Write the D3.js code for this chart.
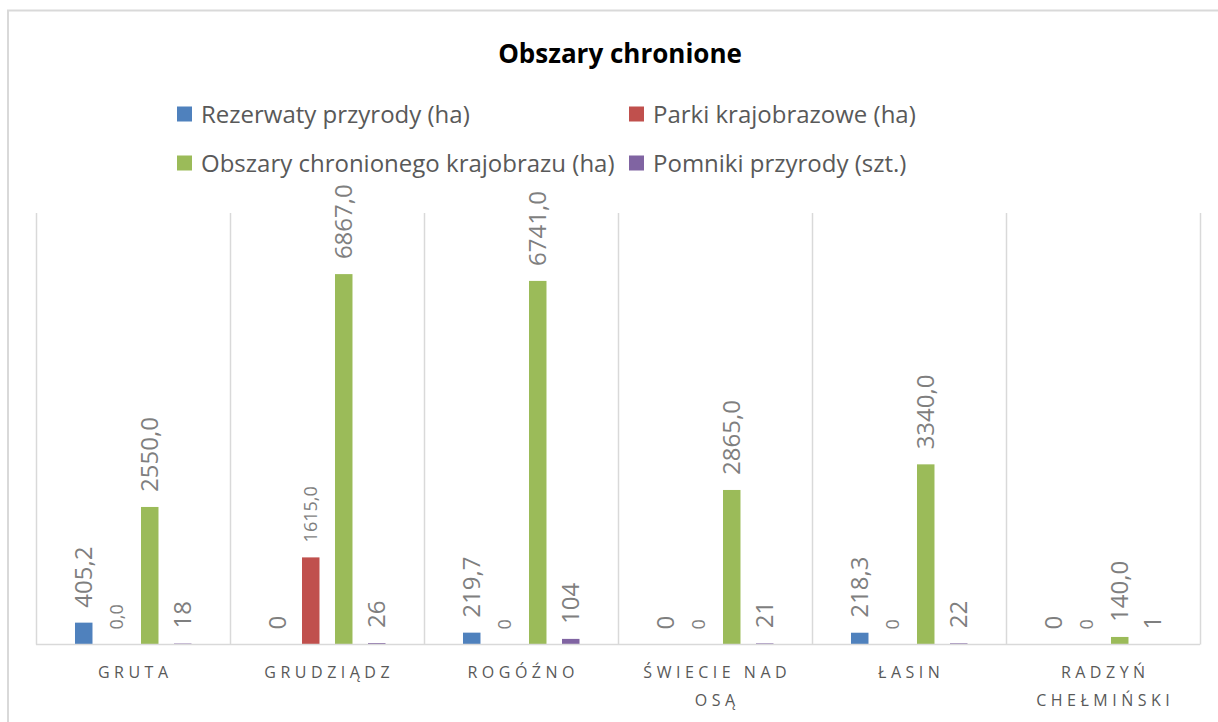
<!DOCTYPE html>
<html>
<head>
<meta charset="utf-8">
<script src="https://cdn.jsdelivr.net/npm/d3@7"></script>
<style>
  html, body { margin: 0; padding: 0; background: #fff; }
  svg { display: block; }
</style>
</head>
<body>
<svg id="chart" width="1218" height="722"></svg>
<script>
// ---- Data ----
const categories = ["GRUTA", "GRUDZIĄDZ", "ROGÓŹNO", "ŚWIECIE NAD OSĄ", "ŁASIN", "RADZYŃ CHEŁMIŃSKI"];
const seriesNames = ["Rezerwaty przyrody (ha)", "Parki krajobrazowe (ha)", "Obszary chronionego krajobrazu (ha)", "Pomniki przyrody (szt.)"];
const rezerwaty = [405.2, 0, 219.7, 0, 218.3, 0];
const parki = [0, 1615, 0, 0, 0, 0];
const obszary = [2550, 6867, 6741, 2865, 3340, 140];
const pomniki = [18, 26, 104, 21, 22, 1];
const rezerwatyLabels = ["405,2", "0", "219,7", "0", "218,3", "0"];
const parkiLabels = ["0,0", "1615,0", "0", "0", "0", "0"];
const obszaryLabels = ["2550,0", "6867,0", "6741,0", "2865,0", "3340,0", "140,0"];
const pomnikiLabels = ["18", "26", "104", "21", "22", "1"];
const yTicks = [0, 8000];
const title = "Obszary chronione";

// ---- Styles ----
const colors = ["#4f81bd", "#c0504d", "#9bbb59", "#8064a2"];
const smallLabelSeries = [1]; // series whose data labels use the smaller font
const FONT = "'Open Sans', 'DejaVu Sans', sans-serif";

const seriesValues = [rezerwaty, parki, obszary, pomniki];
const seriesLabels = [rezerwatyLabels, parkiLabels, obszaryLabels, pomnikiLabels];

const svg = d3.select("#chart");

// outer chart border
svg.append("rect")
  .attr("x", 8).attr("y", 10.5).attr("width", 1230).attr("height", 730)
  .attr("fill", "#fff").attr("stroke", "#d9d9d9").attr("stroke-width", 2);

// title
svg.append("text")
  .attr("x", 620).attr("y", 63)
  .attr("text-anchor", "middle")
  .attr("font-family", FONT).attr("font-weight", "bold")
  .attr("font-size", 26).attr("fill", "#000")
  .text(title);

// legend
const legendPos = [[177, 114], [629, 114], [177, 163], [629, 163]];
const legend = svg.append("g");
seriesNames.forEach((name, i) => {
  const [lx, ly] = legendPos[i];
  legend.append("rect")
    .attr("x", lx).attr("y", ly - 7.5).attr("width", 15).attr("height", 15)
    .attr("fill", colors[i]);
  legend.append("text")
    .attr("x", lx + 24).attr("y", ly)
    .attr("dy", "0.36em")
    .attr("font-family", FONT).attr("font-size", 24)
    .attr("fill", "#595959")
    .text(name);
});

// scales
const x0 = d3.scaleBand().domain(categories).range([36, 1200]).padding(0);
const bw0 = x0.bandwidth();
const x1 = d3.scaleBand().domain(d3.range(seriesNames.length))
  .range([bw0 * 0.201, bw0 * 0.8015]).paddingInner(0.47).paddingOuter(0);
const y = d3.scaleLinear().domain(d3.extent(yTicks)).range([644.5, 213]);

// category separator lines
const gridG = svg.append("g");
const bounds = categories.map(c => x0(c)).concat([x0.range()[1]]);
bounds.forEach(bx => {
  gridG.append("line")
    .attr("x1", Math.round(bx) + 0.5).attr("x2", Math.round(bx) + 0.5)
    .attr("y1", y(yTicks[yTicks.length - 1])).attr("y2", y(0))
    .attr("stroke", "#d9d9d9").attr("stroke-width", 1.5);
});

// bars
const barsG = svg.append("g");
categories.forEach((cat, ci) => {
  seriesValues.forEach((vals, si) => {
    const v = vals[ci];
    const h = y(0) - y(v);
    if (h > 0) {
      barsG.append("rect")
        .attr("x", x0(cat) + x1(si))
        .attr("y", y(v))
        .attr("width", x1.bandwidth())
        .attr("height", h)
        .attr("fill", colors[si]);
    }
  });
});

// baseline
svg.append("line")
  .attr("x1", x0.range()[0]).attr("x2", x0.range()[1])
  .attr("y1", y(0)).attr("y2", y(0))
  .attr("stroke", "#d9d9d9").attr("stroke-width", 1.5);

// data labels
const labelsG = svg.append("g");
categories.forEach((cat, ci) => {
  seriesValues.forEach((vals, si) => {
    const cx = x0(cat) + x1(si) + x1.bandwidth() / 2;
    const ty = y(vals[ci]) - 15;
    const small = smallLabelSeries.includes(si);
    labelsG.append("text")
      .attr("transform", `translate(${cx},${ty}) rotate(-90)`)
      .attr("dy", "0.36em")
      .attr("text-anchor", "start")
      .attr("font-family", FONT)
      .attr("font-size", small ? 18 : 24)
      .attr("fill", "#7f7f7f")
      .text(seriesLabels[si][ci]);
  });
});

// category labels with wrapping
const catG = svg.append("g");
const LS = 4.5;
categories.forEach(cat => {
  const cx = x0(cat) + bw0 / 2 + LS / 2;
  const words = cat.split(" ");
  const t = catG.append("text")
    .attr("text-anchor", "middle")
    .attr("font-family", FONT).attr("font-size", 16)
    .attr("letter-spacing", LS)
    .attr("fill", "#595959");
  let lines = [];
  let line = [];
  const maxW = 165;
  const probe = t.append("tspan");
  words.forEach(w => {
    const test = line.concat([w]).join(" ");
    probe.text(test);
    if (probe.node().getComputedTextLength() > maxW && line.length) {
      lines.push(line.join(" "));
      line = [w];
    } else {
      line.push(w);
    }
  });
  lines.push(line.join(" "));
  probe.remove();
  lines.forEach((l, i) => {
    t.append("tspan").attr("x", cx).attr("y", 678 + i * 28).text(l);
  });
});
</script>
</body>
</html>
